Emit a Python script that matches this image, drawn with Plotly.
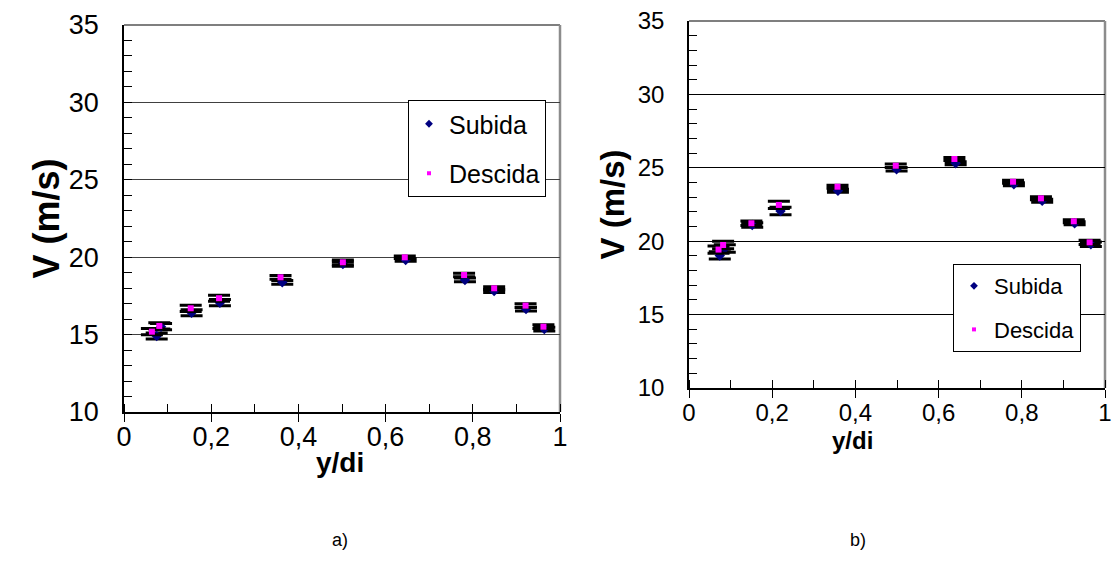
import plotly.graph_objects as go

# ---- a) left panel: velocity profile, y/di vs V (m/s) ----
a_sub_x = [0.075, 0.085, 0.155, 0.220, 0.363, 0.502, 0.646, 0.782, 0.849, 0.922, 0.964]
a_sub_v = [14.91, 15.51, 16.41, 17.06, 18.38, 19.56, 19.82, 18.53, 17.82, 16.65, 15.36]
a_des_x = [0.064, 0.081, 0.153, 0.218, 0.359, 0.502, 0.644, 0.780, 0.849, 0.921, 0.962]
a_des_v = [15.19, 15.56, 16.70, 17.35, 18.70, 19.67, 19.99, 18.85, 17.99, 16.87, 15.51]
a_sub_err = [0.20, 0.20, 0.20, 0.20, 0.12, 0.15, 0.08, 0.12, 0.10, 0.12, 0.12]
a_des_err = [0.20, 0.20, 0.20, 0.20, 0.12, 0.15, 0.08, 0.12, 0.10, 0.12, 0.12]

# ---- b) right panel ----
b_sub_x = [0.074, 0.086, 0.152, 0.220, 0.358, 0.499, 0.641, 0.781, 0.849, 0.927, 0.966]
b_sub_v = [19.03, 19.50, 21.10, 22.06, 23.44, 24.90, 25.31, 23.88, 22.76, 21.22, 19.79]
b_des_x = [0.071, 0.082, 0.150, 0.216, 0.357, 0.497, 0.638, 0.779, 0.846, 0.925, 0.963]
b_des_v = [19.43, 19.74, 21.22, 22.47, 23.71, 25.14, 25.60, 24.05, 22.92, 21.36, 19.92]
b_sub_err = [0.25, 0.25, 0.15, 0.25, 0.10, 0.12, 0.10, 0.10, 0.10, 0.10, 0.15]
b_des_err = [0.25, 0.25, 0.15, 0.25, 0.10, 0.12, 0.10, 0.10, 0.10, 0.10, 0.15]

x_ticks = [0, 0.2, 0.4, 0.6, 0.8, 1]
y_ticks = [10, 15, 20, 25, 30, 35]

SUB_COLOR = "#000080"
DES_COLOR = "#FF00FF"
FONT = "Liberation Sans, Arial, sans-serif"

W, H = 1115, 583

fig = go.Figure()


def add_series(x, v, err, xa, ya, color, symbol, size):
    fig.add_trace(go.Scatter(
        x=x, y=v, xaxis=xa, yaxis=ya, mode="markers", showlegend=False,
        marker=dict(color=color, symbol=symbol, size=size, line=dict(width=0)),
        error_y=dict(type="data", array=err, visible=True, color="black",
                     thickness=3, width=11),
    ))


add_series(a_sub_x, a_sub_v, a_sub_err, "x", "y", SUB_COLOR, "diamond", 8)
add_series(a_des_x, a_des_v, a_des_err, "x", "y", DES_COLOR, "square", 6)
add_series(b_sub_x, b_sub_v, b_sub_err, "x2", "y2", SUB_COLOR, "diamond", 8)
add_series(b_des_x, b_des_v, b_des_err, "x2", "y2", DES_COLOR, "square", 6)

# legend-only entries (smaller symbols, no error bars)
for leg, ax, ay in (("legend", "x", "y"), ("legend2", "x2", "y2")):
    fig.add_trace(go.Scatter(x=[None], y=[None], xaxis=ax, yaxis=ay, mode="markers",
                             name="Subida", legend=leg, legendgroup=leg + "s",
                             marker=dict(color=SUB_COLOR, symbol="diamond", size=6)))
    fig.add_trace(go.Scatter(x=[None], y=[None], xaxis=ax, yaxis=ay, mode="markers",
                             name="Descida", legend=leg, legendgroup=leg + "d",
                             marker=dict(color=DES_COLOR, symbol="square", size=4)))

# plot-area boxes in pixels
A = dict(l=124, r=560, t=25, b=412)
B = dict(l=689, r=1105, t=21, b=388)


def dom(p):
    return [p["l"] / W, p["r"] / W], [1 - p["b"] / H, 1 - p["t"] / H]


ax_dom, ay_dom = dom(A)
bx_dom, by_dom = dom(B)


def xaxis(domain, anchor, fs, standoff):
    return dict(domain=domain, anchor=anchor, range=[0, 1], tickvals=x_ticks,
                automargin=False,
                showgrid=False, zeroline=False, showline=True, linecolor="black",
                linewidth=1.5, ticks="outside", ticklen=8, tickcolor="black",
                minor=dict(dtick=0.1, ticks="inside", ticklen=8, tickcolor="black"),
                ticklabelstandoff=standoff,
                tickfont=dict(size=fs, color="black", family=FONT))


def yaxis(domain, anchor, fs, gridcolor, standoff):
    return dict(domain=domain, anchor=anchor, range=[10, 35], tickvals=y_ticks,
                automargin=False,
                showgrid=True, gridcolor=gridcolor, gridwidth=1, zeroline=False,
                showline=True, linecolor="black", linewidth=1.5,
                ticks="inside", ticklen=8, tickcolor="black",
                minor=dict(dtick=1, ticks="inside", ticklen=8, tickcolor="black"),
                ticklabelstandoff=standoff,
                tickfont=dict(size=fs, color="black", family=FONT))


fig.update_layout(
    width=W, height=H,
    margin=dict(l=0, r=0, t=0, b=0, autoexpand=False),
    paper_bgcolor="white", plot_bgcolor="white",
    separators=", ",
    font=dict(family=FONT, color="black"),
    xaxis=xaxis(ax_dom, "y", 27, -8),
    yaxis=yaxis(ay_dom, "x", 27, "#404040", 18),
    xaxis2=xaxis(bx_dom, "y2", 24, -6),
    yaxis2=yaxis(by_dom, "x2", 24, "black", 18),
    legend=dict(x=408 / W, y=1 - 100 / H, xanchor="left", yanchor="top",
                bgcolor="white", bordercolor="black", borderwidth=1,
                font=dict(size=25, family=FONT), tracegroupgap=14,
                itemwidth=30),
    legend2=dict(x=953 / W, y=1 - 264 / H, xanchor="left", yanchor="top",
                 bgcolor="white", bordercolor="black", borderwidth=1,
                 font=dict(size=22, family=FONT), tracegroupgap=12,
                 itemwidth=30),
)

# top / right frame of each plot area
for xr, yr in (("x domain", "y domain"), ("x2 domain", "y2 domain")):
    fig.add_shape(type="line", xref=xr, yref=yr, x0=0, x1=1, y0=1, y1=1,
                  line=dict(color="#555555", width=1.5), layer="below")
    fig.add_shape(type="line", xref=xr, yref=yr, x0=1, x1=1, y0=0, y1=1,
                  line=dict(color="#8c8c8c", width=2.5), layer="below")

# axis titles and panel captions
texts = [
    ("V (m/s)", 46, (A["t"] + A["b"]) / 2, 36, True, -90),
    ("y/di", 340, 462, 28, True, 0),
    ("a)", 340, 540, 18, False, 0),
    ("V (m/s)", 612, (B["t"] + B["b"]) / 2, 33, True, -90),
    ("y/di", 852, 440, 24, True, 0),
    ("b)", 858, 540, 18, False, 0),
]
for txt, px, py, fs, bold, ang in texts:
    fig.add_annotation(
        text=f"<b>{txt}</b>" if bold else txt,
        x=px / W, y=1 - py / H, xref="paper", yref="paper",
        xanchor="center", yanchor="middle", showarrow=False, textangle=ang,
        font=dict(size=fs, family=FONT, color="black"),
    )

fig.write_html("out.html")
